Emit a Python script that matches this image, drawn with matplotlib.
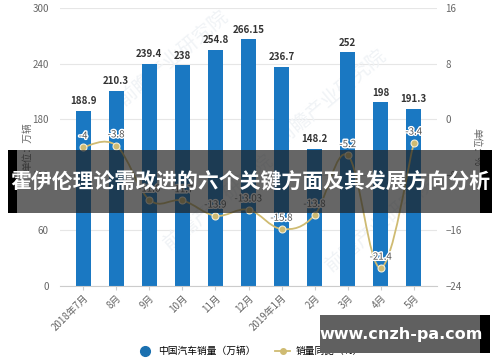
import numpy as np
import matplotlib
matplotlib.use("Agg")
import matplotlib.pyplot as plt
import matplotlib.patheffects as pe
from matplotlib.path import Path
from matplotlib.patches import PathPatch, Rectangle
from matplotlib.lines import Line2D

plt.rcParams['font.family'] = ['Noto Sans CJK SC', 'DejaVu Sans']

months = ["2018年7月", "8月", "9月", "10月", "11月", "12月",
          "2019年1月", "2月", "3月", "4月", "5月"]
sales = [188.9, 210.3, 239.4, 238, 254.8, 266.15, 236.7, 148.2, 252, 198, 191.3]
yoy = [-4, -3.8, -11.6, -11.7, -13.9, -13.03, -15.8, -13.8, -5.2, -21.4, -3.4]
yoy_labels = ["-4", "-3.8", "-11.6", "-11.7", "-13.9", "-13.03", "-15.8", "-13.8", "-5.2", "-21.4", "-3.4"]

bar_color = "#1a78c2"
line_color = "#cfbb72"
grid_color = "#e6e6e6"
tick_color = "#666666"


def smooth_path(xs, ys, t=0.18):
    # catmull-rom style bezier through the points
    n = len(xs)
    verts = [(xs[0], ys[0])]
    codes = [Path.MOVETO]
    for i in range(n - 1):
        x0, y0 = (xs[i - 1], ys[i - 1]) if i > 0 else (xs[i], ys[i])
        x1, y1 = xs[i], ys[i]
        x2, y2 = xs[i + 1], ys[i + 1]
        x3, y3 = (xs[i + 2], ys[i + 2]) if i + 2 < n else (x2, y2)
        c1 = (x1 + (x2 - x0) * t, y1 + (y2 - y0) * t)
        c2 = (x2 - (x3 - x1) * t, y2 - (y3 - y1) * t)
        verts += [c1, c2, (x2, y2)]
        codes += [Path.CURVE4] * 3
    return Path(verts, codes)


fig = plt.figure(figsize=(5, 3.62), dpi=100)
ax = fig.add_axes([0.12, 0.21, 0.754, 0.768])
x = np.arange(len(months))

bars = ax.bar(x, sales, width=0.46, color=bar_color, zorder=2)
for xi, v in zip(x, sales):
    ax.text(xi, v + 5, f"{v:g}", ha="center", va="bottom", fontsize=7,
            fontweight="bold", color="#333333", zorder=5)

ax.set_ylim(0, 300)
ax.set_yticks(np.arange(0, 301, 60))
ax.set_xlim(-0.7, len(months) - 0.3)
ax.set_xticks(x)
ax.set_xticklabels(months, rotation=45, ha="right", rotation_mode="anchor",
                   fontsize=7, color=tick_color)
ax.yaxis.grid(True, color=grid_color, lw=0.8, zorder=0)
ax.set_axisbelow(True)
for s in ["top", "right", "left"]:
    ax.spines[s].set_visible(False)
ax.spines["bottom"].set_color("#cccccc")
ax.tick_params(axis="y", length=0, labelsize=7, labelcolor=tick_color, pad=8)
ax.tick_params(axis="x", length=3, color="#cccccc", pad=2)
ax.set_ylabel("单位：万辆", fontsize=7, color=tick_color, labelpad=0)

# faint watermark, below the bars
for wx, wy in [(0.3, 0.82), (0.72, 0.68), (0.42, 0.3), (0.85, 0.22)]:
    ax.text(wx, wy, "前瞻产业研究院", transform=ax.transAxes, fontsize=14,
            color="#f0f3f6", rotation=40, ha="center", va="center", zorder=1)

ax2 = ax.twinx()
ax2.set_ylim(-24, 16)
ax2.set_yticks(np.arange(-24, 17, 8))
for s in ["top", "right", "left", "bottom"]:
    ax2.spines[s].set_visible(False)
ax2.tick_params(axis="y", length=0, labelsize=7, labelcolor=tick_color, pad=6)
ax2.set_ylabel("单位：%", fontsize=7, color=tick_color, rotation=270, labelpad=14)

ax2.add_patch(PathPatch(smooth_path(x, yoy), fill=False, edgecolor=line_color,
                        lw=1.3, zorder=3))
ax2.plot(x, yoy, "o", color=line_color, ms=5, mec="#f4eed8", mew=0.8, zorder=4)
for xi, v, lab in zip(x, yoy, yoy_labels):
    ax2.text(xi, v + 0.9, lab, ha="center", va="bottom", fontsize=7, color="#555555",
             zorder=6, path_effects=[pe.withStroke(linewidth=2, foreground="white")])

# legend
handles = [Line2D([], [], marker="o", ls="none", color="#1a70b0", ms=7),
           Line2D([], [], marker="o", color=line_color, ms=4, lw=1.3)]
fig.legend(handles, ["中国汽车销量（万辆）", "销量同比（%）"], loc="center",
           bbox_to_anchor=(0.5, 0.03), ncol=2, frameon=False, fontsize=7,
           handlelength=1.6, columnspacing=2.0, handletextpad=0.5)

# title banner overlay
fig.patches.append(Rectangle((8 / 500, 1 - 213 / 362), 472 / 500, 63 / 362,
                             transform=fig.transFigure, facecolor="#1e1e1e",
                             alpha=0.68, zorder=10))
fig.patches.append(Rectangle((8 / 500, 1 - 213 / 362), 9 / 500, 63 / 362,
                             transform=fig.transFigure, facecolor="black", zorder=11))
fig.patches.append(Rectangle((480 / 500, 1 - 213 / 362), 12 / 500, 63 / 362,
                             transform=fig.transFigure, facecolor="black", zorder=11))
fig.text(250 / 500, 1 - 182 / 362, "霍伊伦理论需改进的六个关键方面及其发展方向分析",
         ha="center", va="center", fontsize=15, fontweight="bold", color="white",
         zorder=12)

# url box
fig.patches.append(Rectangle((320 / 500, 1 - 353 / 362), 160 / 500, 38 / 362,
                             transform=fig.transFigure, facecolor="#606060", zorder=10))
fig.patches.append(Rectangle((480 / 500, 1 - 353 / 362), 10 / 500, 38 / 362,
                             transform=fig.transFigure, facecolor="black", zorder=11))
fig.text(401 / 500, 1 - 335 / 362, "www.cnzh-pa.com", ha="center", va="center",
         fontsize=11.5, fontweight="bold", color="white", zorder=12,
         family=["DejaVu Sans"])

fig.savefig("out.png", dpi=100)
